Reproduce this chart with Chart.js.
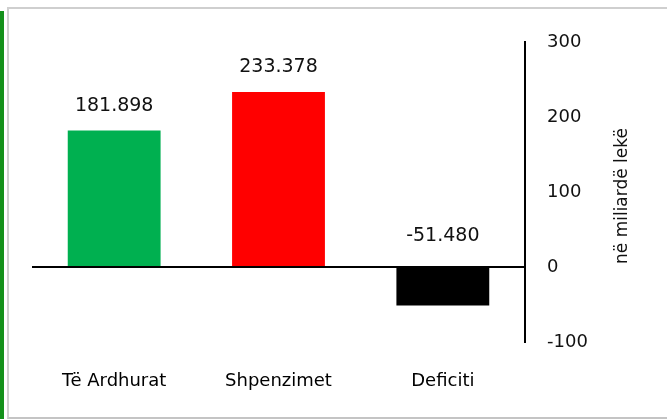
<!DOCTYPE html>
<html>
<head>
<meta charset="utf-8">
<script src="https://cdn.jsdelivr.net/npm/chart.js@4.4.0/dist/chart.umd.min.js"></script>
<style>
    html, body { margin: 0; padding: 0; background: #fff; }
    #wrap { position: relative; width: 667px; height: 419px; overflow: hidden; }
    #greenBar { position: absolute; left: 0; top: 11px; width: 4px; height: 408px; background: #14911b; }
    #frame { position: absolute; left: 7px; top: 7px; width: 700px; height: 408px; border-left: 2px solid #cfcfcf; border-top: 2px solid #cfcfcf; border-bottom: 2px solid #c4c4c4; }
    #chart { position: absolute; left: 0; top: 0; }
</style>
</head>
<body>
<div id="wrap">
    <div id="greenBar"></div>
    <div id="frame"></div>
    <canvas id="chart" width="667" height="419"></canvas>
</div>
<script>
// Data
const categories = ['Të Ardhurat', 'Shpenzimet', 'Deficiti'];
const values = [181.898, 233.378, -51.480];
const barColors = ['#00B050', '#FF0000', '#000000'];
const yTicks = [-100, 0, 100, 200, 300];
const axisTitle = 'në miliardë lekë';

const FONT = '"DejaVu Sans", Verdana, sans-serif';

// Value labels above the bars (negative bar: above the zero line)
const valueLabels = {
    id: 'valueLabels',
    afterDatasetsDraw(chart) {
        const ctx = chart.ctx;
        const meta = chart.getDatasetMeta(0);
        ctx.save();
        ctx.font = '19px ' + FONT;
        ctx.fillStyle = '#111';
        ctx.textAlign = 'center';
        ctx.textBaseline = 'middle';
        meta.data.forEach((bar, i) => {
            const v = values[i];
            const y = v >= 0 ? bar.y - 25 : bar.base - 32;
            ctx.fillText(v.toFixed(3), bar.x, y);
        });
        ctx.restore();
    }
};

// Right axis title, reading bottom to top
const rightTitle = {
    id: 'rightTitle',
    afterDraw(chart) {
        const ctx = chart.ctx;
        const yScale = chart.scales.y;
        const area = chart.chartArea;
        ctx.save();
        ctx.translate(yScale.right - 44, (area.top + area.bottom) / 2 + 4);
        ctx.rotate(-Math.PI / 2);
        ctx.font = '17px ' + FONT;
        ctx.fillStyle = '#111';
        ctx.textAlign = 'center';
        ctx.textBaseline = 'middle';
        ctx.fillText(axisTitle, 0, 0);
        ctx.restore();
    }
};

new Chart(document.getElementById('chart'), {
    type: 'bar',
    data: {
        labels: categories,
        datasets: [{
            data: values,
            backgroundColor: barColors,
            borderWidth: 0,
            categoryPercentage: 1,
            barPercentage: 0.565
        }]
    },
    options: {
        responsive: false,
        animation: false,
        layout: { padding: { left: 32, top: 42, right: 0, bottom: 0 } },
        plugins: {
            legend: { display: false },
            tooltip: { enabled: false }
        },
        scales: {
            x: {
                grid: { display: false },
                border: { display: false },
                afterFit(scale) { scale.height = 77; },
                ticks: {
                    autoSkip: false,
                    maxRotation: 0,
                    padding: 21,
                    color: '#000',
                    font: { family: FONT, size: 18 }
                }
            },
            y: {
                position: 'right',
                min: yTicks[0],
                max: yTicks[yTicks.length - 1],
                afterFit(scale) { scale.width = 142; },
                afterBuildTicks(scale) { scale.ticks = yTicks.map(v => ({ value: v })); },
                border: { display: true, color: '#000', width: 2 },
                grid: {
                    drawTicks: false,
                    lineWidth: 2,
                    color: (ctx) => ctx.tick && ctx.tick.value === 0 ? '#000' : 'rgba(0,0,0,0)'
                },
                ticks: {
                    padding: 22,
                    color: '#111',
                    font: { family: FONT, size: 18 }
                }
            }
        }
    },
    plugins: [valueLabels, rightTitle]
});
</script>
</body>
</html>
